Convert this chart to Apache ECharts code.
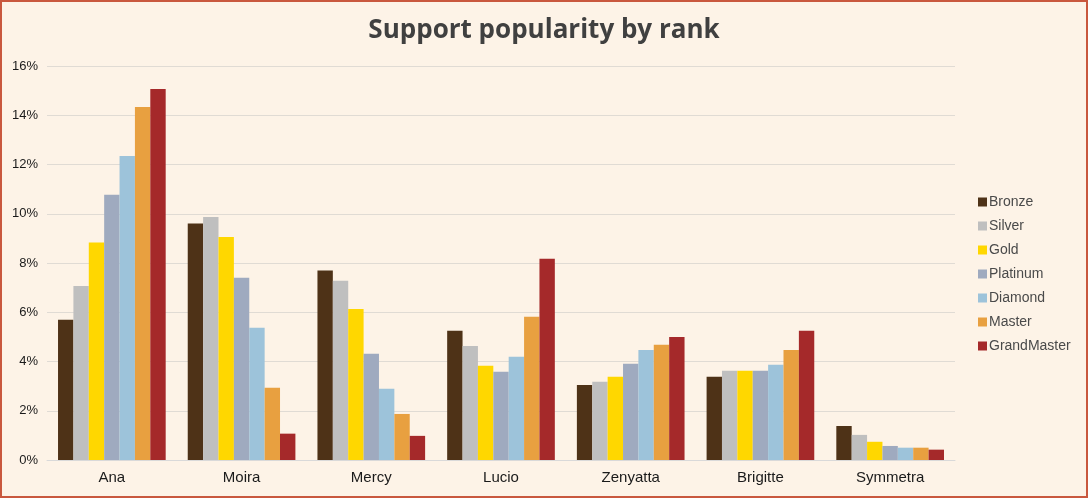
<!DOCTYPE html>
<html>
<head>
<meta charset="utf-8">
<script src="https://cdn.jsdelivr.net/npm/echarts@6/dist/echarts.min.js"></script>
<style>
  html, body { margin: 0; padding: 0; background: #fff; }
  #chart {
    width: 1088px;
    height: 498px;
    box-sizing: border-box;
    border: 2px solid #c9583e;
    background: #fdf3e7;
  }
</style>
</head>
<body>
<div id="chart"></div>
<script>
// heroes on the x axis
var heroes = ['Ana', 'Moira', 'Mercy', 'Lucio', 'Zenyatta', 'Brigitte', 'Symmetra']
var ranks = ['Bronze', 'Silver', 'Gold', 'Platinum', 'Diamond', 'Master', 'GrandMaster']
var yTicks = [0, 2, 4, 6, 8, 10, 12, 14, 16]

// pick rate (%) per rank, in hero order
var bronze = [5.7, 9.6, 7.7, 5.25, 3.05, 3.38, 1.38]
var silver = [7.07, 9.87, 7.28, 4.63, 3.18, 3.62, 1.02]
var gold = [8.83, 9.06, 6.13, 3.83, 3.38, 3.62, 0.74]
var platinum = [10.77, 7.4, 4.31, 3.58, 3.91, 3.62, 0.57]
var diamond = [12.35, 5.37, 2.89, 4.19, 4.47, 3.87, 0.5]
var master = [14.34, 2.93, 1.87, 5.82, 4.68, 4.47, 0.5]
var grandMaster = [15.07, 1.07, 0.98, 8.17, 5.0, 5.25, 0.42]

var colors = ['#4e3217', '#bfbfbf', '#ffd700', '#9faabf', '#9dc3da', '#e8a040', '#a5292a']
var values = [bronze, silver, gold, platinum, diamond, master, grandMaster]

var chart = echarts.init(document.getElementById('chart'))

var series = ranks.map(function (name, i) {
  return {
    name: name,
    type: 'bar',
    data: values[i],
    barGap: '0%',
    barCategoryGap: '17%',
    itemStyle: { color: colors[i] }
  }
})

chart.setOption({
  animation: false,
  backgroundColor: '#fdf3e7',
  title: {
    text: 'Support popularity by rank',
    left: 'center',
    top: 11,
    textStyle: {
      fontFamily: 'Open Sans',
      fontWeight: 'bold',
      fontSize: 26,
      color: '#404040'
    }
  },
  legend: {
    data: ranks,
    orient: 'vertical',
    left: 971,
    top: 188,
    itemWidth: 9,
    itemHeight: 9,
    itemGap: 10,
    icon: 'rect',
    textStyle: {
      fontFamily: 'Liberation Sans',
      fontSize: 14,
      color: '#4a4a4a',
      padding: [0, 0, 0, -3]
    }
  },
  grid: {
    left: 45,
    right: 131,
    top: 64,
    bottom: 36
  },
  xAxis: {
    type: 'category',
    data: heroes,
    axisTick: { show: false },
    axisLine: { lineStyle: { color: '#d9d9d9', width: 1 } },
    axisLabel: {
      fontFamily: 'Liberation Sans',
      fontSize: 15,
      color: '#1a1a1a',
      margin: 10
    }
  },
  yAxis: {
    type: 'value',
    min: yTicks[0],
    max: yTicks[yTicks.length - 1],
    interval: 2,
    axisLine: { show: false },
    axisTick: { show: false },
    splitLine: { lineStyle: { color: '#e0dbd4', width: 1 } },
    axisLabel: {
      formatter: '{value}%',
      fontFamily: 'Liberation Sans',
      fontSize: 13,
      color: '#1a1a1a',
      margin: 9
    }
  },
  series: series
})
</script>
</body>
</html>
